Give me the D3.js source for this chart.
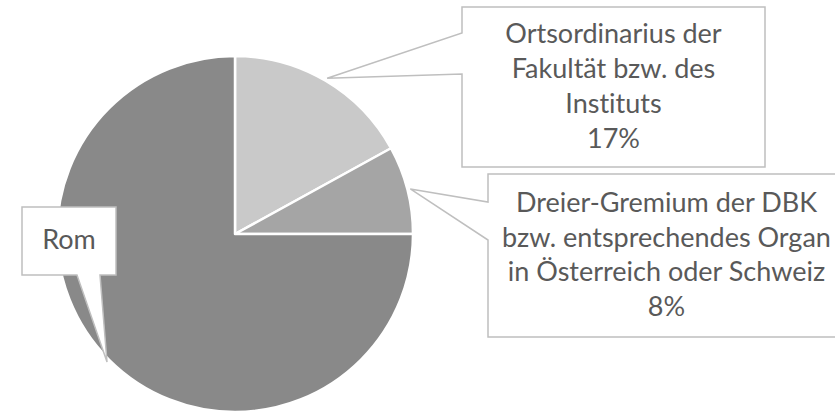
<!DOCTYPE html>
<html>
<head>
<meta charset="utf-8">
<script src="https://cdn.jsdelivr.net/npm/d3@7/dist/d3.min.js"></script>
<style>
  body { margin: 0; background: #fff; }
  svg { display: block; }
  text { font-variant-ligatures: none; }
</style>
</head>
<body>
<svg id="chart"></svg>
<script>
// slice data (clockwise from 12 o'clock)
const categories = ['Ortsordinarius', 'Dreier-Gremium', 'Rom'];
const shares = [17, 8, 75];
const labelLines = [
    ['Ortsordinarius der', 'Fakultät bzw. des', 'Instituts', '17%'],
    ['Dreier-Gremium der DBK', 'bzw. entsprechendes Organ', 'in Österreich oder Schweiz', '8%'],
    ['Rom']
];
const sliceColors = ['#c9c9c9', '#a5a5a5', '#898989'];

const width = 835;
const height = 413;
const cx = 235, cy = 234, radius = 178;
const fontSize = 27;
const lineHeight = 34.7;

// callout boxes: box rect + which side the pointer leaves from
const callouts = [
    { x: 462, y: 7, w: 303, h: 160, side: 'left', a: 33, b: 74 },
    { x: 488, y: 174, w: 357, h: 163, side: 'left', a: 202, b: 240 },
    { x: 22, y: 207, w: 94, h: 68, side: 'bottom', a: 77, b: 100 }
];

const svg = d3.select('#chart')
    .attr('width', width)
    .attr('height', height);

const pie = d3.pie().sort(null).value(d => d);
const arcs = pie(shares);

const arc = d3.arc().innerRadius(0).outerRadius(radius);
const tipArc = d3.arc().innerRadius(radius + 3).outerRadius(radius + 3);

const g = svg.append('g').attr('transform', `translate(${cx},${cy})`);

g.selectAll('path.slice')
    .data(arcs)
    .enter()
    .append('path')
    .attr('class', 'slice')
    .attr('d', arc)
    .attr('fill', (d, i) => sliceColors[i])
    .attr('stroke', '#fff')
    .attr('stroke-width', 2.5)
    .attr('stroke-linejoin', 'round');

// callout shapes
callouts.forEach((c, i) => {
    const t = tipArc.centroid(arcs[i]);
    const tx = cx + t[0], ty = cy + t[1];
    let pts;
    if (c.side === 'left') {
        pts = [[c.x, c.y], [c.x + c.w, c.y], [c.x + c.w, c.y + c.h], [c.x, c.y + c.h],
               [c.x, c.b], [tx, ty], [c.x, c.a]];
    } else {
        pts = [[c.x, c.y], [c.x + c.w, c.y], [c.x + c.w, c.y + c.h], [c.b, c.y + c.h],
               [tx, ty], [c.a, c.y + c.h], [c.x, c.y + c.h]];
    }
    svg.append('path')
        .attr('d', d3.line()(pts) + 'Z')
        .attr('fill', '#fff')
        .attr('stroke', '#bfbfbf')
        .attr('stroke-width', 1.5)
        .attr('stroke-linejoin', 'miter');

    const lines = labelLines[i];
    const midY = c.y + c.h / 2;
    const firstBase = midY - (lines.length - 1) * lineHeight / 2 + fontSize * 0.35 - 1;
    const txt = svg.append('text')
        .attr('x', c.x + c.w / 2)
        .attr('text-anchor', 'middle')
        .attr('font-family', 'Lato, "Open Sans", sans-serif')
        .attr('font-size', fontSize)
        .attr('fill', '#595959');
    lines.forEach((s, j) => {
        txt.append('tspan')
            .attr('x', c.x + c.w / 2)
            .attr('y', firstBase + j * lineHeight)
            .text(s);
    });
});
</script>
</body>
</html>
